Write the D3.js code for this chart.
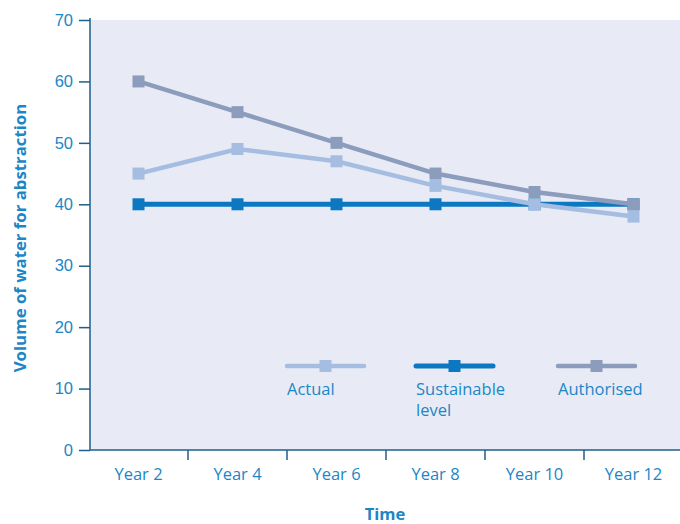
<!DOCTYPE html>
<html>
<head>
<meta charset="utf-8">
<script src="https://cdn.jsdelivr.net/npm/d3@7"></script>
<style>
  html, body { margin: 0; padding: 0; background: #fff; }
  svg { display: block; font-family: "Open Sans", "Noto Sans", sans-serif; }
</style>
</head>
<body>
<svg id="chart" width="680" height="524"></svg>
<script>
// Volume of water for abstraction over time
const years = ["Year 2", "Year 4", "Year 6", "Year 8", "Year 10", "Year 12"];
const actual = [45, 49, 47, 43, 40, 38];
const sustainable = [40, 40, 40, 40, 40, 40];
const authorised = [60, 55, 50, 45, 42, 40];
const yTicks = [0, 10, 20, 30, 40, 50, 60, 70];

const seriesNames = ["Sustainable level", "Actual", "Authorised"];
const seriesColors = { "Actual": "#a4bde1", "Sustainable level": "#0b78c1", "Authorised": "#8b9cbc" };
const seriesWidths = { "Actual": 4.5, "Sustainable level": 5, "Authorised": 4.5 };
const seriesValues = { "Actual": actual, "Sustainable level": sustainable, "Authorised": authorised };

const textColor = "#1c86c6";
const axisColor = "#1f5f8b";
const fs = 16.5;

const svg = d3.select("#chart");
const plotLeft = 90, plotRight = 683, plotTop = 20, plotBottom = 450;

const x = d3.scaleBand().domain(years).range([plotLeft - 1, plotRight]);
const y = d3.scaleLinear().domain([0, 70]).range([plotBottom, plotTop]);

// plot background
svg.append("rect")
  .attr("x", plotLeft).attr("y", plotTop)
  .attr("width", 680 - plotLeft).attr("height", plotBottom - plotTop)
  .attr("fill", "#e8ebf5");

// y axis
const yAxis = svg.append("g")
  .attr("transform", `translate(${plotLeft},0)`)
  .call(d3.axisLeft(y).tickValues(yTicks).tickSize(11).tickPadding(6));
yAxis.select(".domain").attr("stroke", axisColor).attr("stroke-width", 1.5)
  .attr("d", `M0,${plotTop - 2}V${plotBottom}`);
yAxis.selectAll(".tick line").attr("stroke", axisColor).attr("stroke-width", 1.5);
yAxis.selectAll(".tick text").attr("fill", textColor).attr("font-size", fs);

// x axis: ticks at band boundaries
const xAxisG = svg.append("g").attr("transform", `translate(0,${plotBottom})`);
xAxisG.append("line")
  .attr("x1", plotLeft).attr("x2", 680)
  .attr("stroke", axisColor).attr("stroke-width", 1.5);
xAxisG.selectAll("line.tk")
  .data(years.slice(1))
  .join("line")
  .attr("class", "tk")
  .attr("x1", d => x(d)).attr("x2", d => x(d))
  .attr("y1", 0).attr("y2", 10)
  .attr("stroke", axisColor).attr("stroke-width", 1.5);
xAxisG.selectAll("text")
  .data(years)
  .join("text")
  .attr("x", d => x(d) + x.bandwidth() / 2)
  .attr("y", 30)
  .attr("text-anchor", "middle")
  .attr("fill", textColor)
  .attr("font-size", fs)
  .text(d => d);

// axis titles
svg.append("text")
  .attr("x", 385).attr("y", 520)
  .attr("text-anchor", "middle")
  .attr("fill", textColor)
  .attr("font-size", 16.5)
  .attr("font-weight", "bold")
  .text("Time");

svg.append("text")
  .attr("transform", "translate(26,238) rotate(-90)")
  .attr("text-anchor", "middle")
  .attr("fill", textColor)
  .attr("font-size", 16.8)
  .attr("font-weight", "bold")
  .text("Volume of water for abstraction");

// series lines and markers
const cx = d => x(d) + x.bandwidth() / 2;
const line = d3.line().x((v, i) => cx(years[i])).y(v => y(v));
const ms = 12;

seriesNames.forEach(name => {
  const vals = seriesValues[name];
  const g = svg.append("g");
  g.append("path")
    .datum(vals)
    .attr("d", line)
    .attr("fill", "none")
    .attr("stroke", seriesColors[name])
    .attr("stroke-width", seriesWidths[name]);
  g.selectAll("rect")
    .data(vals)
    .join("rect")
    .attr("x", (v, i) => cx(years[i]) - ms / 2)
    .attr("y", v => y(v) - ms / 2)
    .attr("width", ms).attr("height", ms)
    .attr("fill", seriesColors[name]);
});

// legend
const legendItems = [
  { name: "Actual", lines: ["Actual"], x: 287 },
  { name: "Sustainable level", lines: ["Sustainable", "level"], x: 416 },
  { name: "Authorised", lines: ["Authorised"], x: 558 }
];
const lg = svg.append("g");
legendItems.forEach(it => {
  const g = lg.append("g").attr("transform", `translate(${it.x},366)`);
  g.append("line")
    .attr("x1", 0).attr("x2", 77)
    .attr("stroke", seriesColors[it.name])
    .attr("stroke-width", seriesWidths[it.name])
    .attr("stroke-linecap", "round");
  g.append("rect")
    .attr("x", 38.5 - ms / 2).attr("y", -ms / 2)
    .attr("width", ms).attr("height", ms)
    .attr("fill", seriesColors[it.name]);
  const t = g.append("text")
    .attr("x", 0).attr("y", 29)
    .attr("fill", textColor)
    .attr("font-size", fs);
  it.lines.forEach((s, i) => {
    t.append("tspan").attr("x", 0).attr("dy", i === 0 ? 0 : 21).text(s);
  });
});
</script>
</body>
</html>
